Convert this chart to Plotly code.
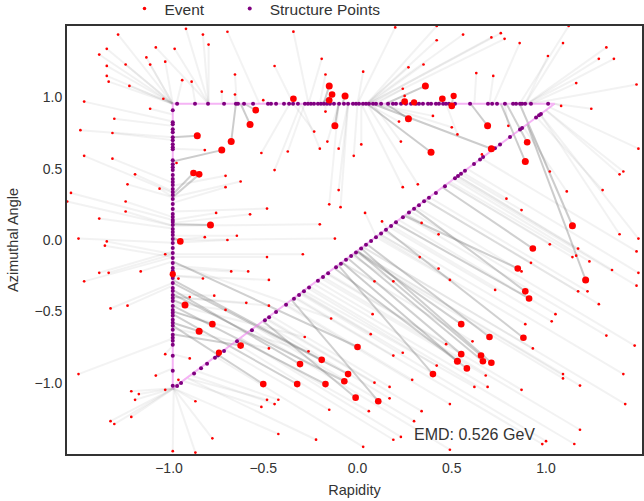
import plotly.graph_objects as go

# ---------------- structure (triangle) ----------------
tri_eta = [-0.98, -0.98, 1.045, -0.98]
tri_phi = [0.955, -1.04, 0.955, 0.955]

# structure points along the top edge
top_eta = [-0.957, -0.862, -0.793, -0.708, -0.645, -0.634, -0.602, -0.554, -0.475, -0.459,
           -0.432, -0.390, -0.363, -0.342, -0.316, -0.279, -0.263, -0.247, -0.231, -0.210,
           -0.194, -0.178, -0.162, -0.146, -0.125, -0.098, -0.072, -0.050, -0.024, -0.008,
           0.008, 0.029, 0.045, 0.061, 0.082, 0.098, 0.125, 0.162, 0.188, 0.204,
           0.231, 0.257, 0.284, 0.310, 0.326, 0.347, 0.374, 0.390, 0.416, 0.432,
           0.454, 0.469, 0.485, 0.517, 0.597, 0.692, 0.714, 0.740, 0.782, 0.825,
           0.841, 0.862, 0.873, 0.889, 0.920, 1.011]
top_phi = [0.955] * len(top_eta)

# structure points along the left edge
left_phi = [0.909, 0.825, 0.811, 0.776, 0.755, 0.720, 0.699, 0.671, 0.650, 0.636,
            0.559, 0.531, 0.510, 0.490, 0.455, 0.427, 0.406, 0.385, 0.357, 0.336,
            0.315, 0.287, 0.252, 0.217, 0.182, 0.161, 0.140, 0.126, 0.105, 0.077,
            0.056, 0.035, 0.007, -0.021, -0.056, -0.091, -0.126, -0.161, -0.196, -0.217,
            -0.245, -0.266, -0.301, -0.336, -0.357, -0.385, -0.406, -0.427, -0.462, -0.490,
            -0.510, -0.531, -0.559, -0.580, -0.601, -0.629, -0.664, -0.685, -0.706, -0.734,
            -0.811, -0.916, -1.021]
left_eta = [-0.98] * len(left_phi)

# structure points along the diagonal edge
diag_eta = [-0.957, -0.936, -0.867, -0.830, -0.798, -0.756, -0.740, -0.708, -0.639, -0.560,
            -0.491, -0.469, -0.432, -0.379, -0.337, -0.310, -0.284, -0.257, -0.210, -0.183,
            -0.156, -0.114, -0.088, -0.061, -0.034, -0.008, 0.019, 0.045, 0.072, 0.098,
            0.125, 0.151, 0.178, 0.204, 0.241, 0.273, 0.300, 0.326, 0.353, 0.379,
            0.416, 0.464, 0.517, 0.533, 0.549, 0.570, 0.618, 0.650, 0.666, 0.729,
            0.756, 0.809, 0.862, 0.873, 0.947, 0.963, 0.973]
diag_phi = [-1.024, -1.003, -0.935, -0.899, -0.867, -0.825, -0.810, -0.778, -0.710, -0.632,
            -0.563, -0.542, -0.505, -0.453, -0.411, -0.385, -0.359, -0.333, -0.286, -0.260,
            -0.233, -0.191, -0.166, -0.139, -0.113, -0.087, -0.060, -0.034, -0.007, 0.019,
            0.045, 0.071, 0.098, 0.124, 0.160, 0.192, 0.219, 0.244, 0.271, 0.297,
            0.330, 0.377, 0.433, 0.449, 0.465, 0.486, 0.533, 0.565, 0.581, 0.643,
            0.670, 0.722, 0.774, 0.785, 0.859, 0.874, 0.884]

# ---------------- event: hard particles ----------------
hard_eta = [-0.15, -0.135, -0.15, -0.066, -0.34, -0.12, 0.36, 0.45, 0.25, 0.30,
            0.27, 0.39, 0.51, 0.50, 0.69, 0.71, 0.90, 0.89, 1.14, -0.54,
            -0.57, -0.67, -0.72, -0.85, -0.87, -0.84, -0.78, -0.94, -0.98, -0.915,
            -0.77, -0.84, -0.62, -0.735, 0.00, -0.305, -0.19, -0.05, -0.07, -0.17,
            -0.32, -0.50, -0.01, 0.11, 0.40, 0.93, 0.85, 1.21, 0.89, 0.91,
            0.55, 0.70, 0.88, 0.55, 0.53, 0.655, 0.665, 0.71, 0.58]
hard_phi = [1.08, 1.02, 0.98, 1.01, 0.99, 0.80, 1.08, 0.99, 0.97, 0.965,
            0.85, 0.615, 1.01, 0.94, 0.80, 0.64, 0.685, 0.55, 0.10, 0.91,
            0.81, 0.69, 0.63, 0.73, 0.47, 0.46, 0.105, -0.01, -0.24, -0.455,
            -0.59, -0.64, -0.74, -0.79, -0.75, -0.87, -0.84, -0.94, -0.99, -1.01,
            -1.01, -1.01, -1.105, -1.13, -0.94, -0.06, -0.20, -0.28, -0.36, -0.41,
            -0.59, -0.68, -0.685, -0.80, -0.85, -0.81, -0.85, -0.86, -0.90]
hard_pt = [1.2, 1.1, 1.1, 1.2, 1.1, 1.2, 1.2, 1.1, 1.1, 1.0,
           1.2, 1.2, 1.0, 1.1, 1.2, 1.2, 1.1, 1.2, 1.2, 1.1,
           1.2, 1.2, 1.2, 1.2, 1.1, 1.1, 1.2, 1.1, 1.0, 1.2,
           1.1, 1.2, 1.1, 1.0, 1.1, 1.1, 1.1, 1.1, 1.1, 1.1,
           1.1, 1.1, 1.1, 1.1, 1.1, 1.1, 1.1, 1.2, 1.1, 1.1,
           1.1, 1.1, 1.1, 1.1, 1.2, 1.1, 1.1, 1.1, 1.1]
hard_to_eta = [-0.18, -0.19, -0.16, -0.08, -0.34, -0.10, 0.15, 0.43, 0.22, 0.30,
               0.15, 0.05, 0.50, 0.49, 0.60, 0.08, 0.79, 0.76, 0.86, -0.60,
               -0.62, -0.645, -0.98, -0.98, -0.98, -0.98, -0.98, -0.98, -0.98, -0.98,
               -0.98, -0.98, -0.98, -0.74, -0.98, -0.98, -0.98, -0.98, -0.98, -0.98,
               -0.98, -0.98, -0.50, -0.35, -0.10, 0.45, 0.25, 0.90, 0.30, 0.20,
               0.00, 0.05, 0.15, -0.05, -0.08, 0.00, -0.02, 0.02, -0.12]
hard_to_phi = [0.955, 0.955, 0.955, 0.955, 0.955, 0.955, 0.955, 0.955, 0.955, 0.955,
               0.955, 0.955, 0.955, 0.955, 0.955, 0.955, 0.955, 0.955, 0.955, 0.955,
               0.955, 0.955, 0.55, 0.72, 0.32, 0.30, 0.11, 0.02, -0.24, -0.42,
               -0.50, -0.58, -0.66, -0.80, -0.15, -0.35, -0.28, -0.30, -0.38, -0.46,
               -0.52, -0.60, -0.57, -0.42, -0.18, 0.37, 0.17, 0.81, 0.22, 0.12,
               -0.08, -0.03, 0.07, -0.13, -0.16, -0.08, -0.10, -0.06, -0.20]

# ---------------- event: soft particles ----------------
soft_eta = [-1.27, -0.91, -0.82, -0.69, -1.33, -1.37, -1.07, -0.97, -0.79, -1.12,
            -1.02, -1.23, -1.10, -1.33, -1.33, -1.32, -1.21, -0.93, -0.88, -0.65,
            -0.72, -0.65, -1.03, -1.45, -1.10, -1.29, -1.47, -1.30, -0.81, -0.96,
            -1.45, -1.30, -1.18, -0.70, -1.22, -1.05, -0.62, -0.70, -1.52, -1.54,
            -1.23, -0.75, -1.23, -0.57, -1.37, -1.48, -0.81, -0.69, -0.64,
            -0.34, 0.20, 0.42, 0.42, -0.44, -0.19, -0.17, 0.03, 0.27, 0.35,
            -0.50, 0.24, 0.25, -0.17, -0.23, -0.16, -0.10, -0.20, 0.02, -0.02,
            0.22, 0.23, 0.40, 0.50, -0.51, -0.37, -0.44, 0.24, 0.32, -0.10,
            -0.15, -0.09, -0.48, 0.04, 0.13, 0.34, 0.43, -0.20, -0.12,
            0.56, 0.71, 0.76, 0.78, 0.86, 1.09, 1.12, 1.32, 1.28, 1.36,
            1.01, 0.63, 0.72, 1.16, 1.48, 1.08, 1.24, 0.53, 0.80, 0.66,
            1.49, 1.02, 1.11, 1.30, 1.41, 1.39, 0.79, 0.87, 1.39, 1.49,
            -1.33, -1.34, -1.37, -1.32, -1.15, -1.45, -1.02, -0.95, -0.82, -0.67,
            -0.58, -1.31, -1.22, -0.89, -0.76, -0.70, -0.59, -1.02, -0.89, -1.48,
            -1.07, -0.95, -1.02, -1.20, -1.16, -1.18, -0.86, -1.31, -1.29, -1.20,
            -0.77, -0.98, -0.86,
            -0.29, -0.48, -0.47, -0.47, -0.14, 0.08, 0.09, 0.19, 0.33, 0.43,
            0.49, -0.28, -0.47, -0.26, 0.07, 0.19, 0.24, 0.47, 0.42, 0.29,
            0.09, 0.17, 0.17, 0.34, 0.30, 0.49, -0.48, -0.42, -0.44, -0.51,
            -0.15, 0.06, -0.42, -0.22, 0.03, 0.19, 0.23,
            1.02, 1.17, 1.14, 1.16, 1.23, 1.48, 1.35, 1.49, 1.48, 0.73,
            0.92, 0.87, 1.17, 1.22, 1.28, 1.05, 1.03, 0.89, 1.32, 1.47,
            0.61, 0.93, 1.09, 1.09, 1.18, 1.41, 1.42, 0.68, 0.69, 0.62,
            0.87, 1.18, 1.15, 1.00, 0.98, 0.49]
soft_phi = [1.44, 1.48, 1.44, 1.46, 1.34, 1.30, 1.35, 1.34, 1.37, 1.28,
            1.25, 1.23, 1.23, 1.22, 1.15, 1.11, 1.08, 1.12, 1.11, 1.16,
            1.04, 1.02, 0.99, 0.97, 0.92, 0.85, 0.77, 0.75, 0.63, 0.54,
            0.59, 0.57, 0.46, 0.45, 0.39, 0.36, 0.41, 0.37, 0.33, 0.27,
            0.27, 0.19, 0.20, 0.18, 0.15, 0.01, 0.02, 0.00, 0.03,
            1.46, 1.49, 1.50, 1.40, 1.22, 1.27, 1.16, 1.18, 1.21, 1.23,
            0.98, 1.06, 1.01, 0.90, 0.76, 0.69, 0.64, 0.64, 0.67, 0.59,
            0.83, 0.69, 0.87, 0.79, 0.61, 0.62, 0.49, 0.37, 0.39, 0.35,
            0.25, 0.23, 0.22, 0.19, 0.13, 0.12, 0.04, 0.11, 0.01,
            1.44, 1.42, 1.45, 1.41, 1.38, 1.38, 1.50, 1.35, 1.27, 1.27,
            1.29, 1.17, 1.15, 1.10, 1.09, 0.94, 0.92, 0.74, 0.80, 0.60,
            0.64, 0.48, 0.34, 0.35, 0.48, 0.46, 0.29, 0.21, 0.04, 0.01,
            -0.01, -0.04, -0.23, -0.23, -0.22, -0.29, -0.10, -0.27, -0.27, -0.22,
            -0.22, -0.48, -0.46, -0.40, -0.39, -0.49, -0.44, -0.80, -0.83, -0.94,
            -0.95, -0.98, -1.05, -1.06, -1.08, -1.12, -1.13, -1.27, -1.29, -1.24,
            -1.39, -1.48, -1.49,
            -0.10, -0.12, -0.28, -0.46, -0.55, -0.52, -0.29, -0.29, -0.12, -0.20,
            -0.28, -0.68, -0.76, -0.78, -0.66, -0.81, -0.79, -0.73, -0.88, -0.98,
            -1.00, -1.03, -1.11, -1.20, -1.27, -1.15, -1.12, -1.12, -1.15, -1.17,
            -1.19, -1.20, -1.36, -1.40, -1.45, -1.40, -1.38,
            -0.03, -0.06, -0.12, -0.11, -0.15, -0.08, -0.21, -0.23, -0.32, -0.35,
            -0.16, -0.22, -0.36, -0.36, -0.45, -0.52, -0.57, -0.59, -0.67, -0.74,
            -0.71, -0.76, -0.94, -0.97, -1.02, -0.94, -1.15, -0.95, -1.03, -1.03,
            -1.05, -1.33, -1.43, -1.41, -1.43, -1.47]
soft_pt = [0.08, 0.07, 0.09, 0.06, 0.08, 0.10, 0.07, 0.08, 0.09, 0.06,
           0.08, 0.07, 0.09, 0.08, 0.06, 0.07, 0.08, 0.09, 0.07, 0.08,
           0.06, 0.08, 0.07, 0.09, 0.08, 0.07, 0.08, 0.06, 0.09, 0.07,
           0.08, 0.07, 0.09, 0.08, 0.07, 0.06, 0.08, 0.09, 0.07, 0.08,
           0.06, 0.08, 0.07, 0.09, 0.08, 0.07, 0.08, 0.09, 0.06,
           0.08, 0.07, 0.09, 0.08, 0.06, 0.07, 0.08, 0.09, 0.07, 0.08,
           0.06, 0.08, 0.07, 0.09, 0.08, 0.07, 0.08, 0.06, 0.09, 0.07,
           0.08, 0.07, 0.09, 0.08, 0.07, 0.06, 0.08, 0.09, 0.07, 0.08,
           0.06, 0.08, 0.07, 0.09, 0.08, 0.07, 0.08, 0.09, 0.06,
           0.08, 0.07, 0.09, 0.08, 0.06, 0.07, 0.08, 0.09, 0.07, 0.08,
           0.06, 0.08, 0.07, 0.09, 0.08, 0.07, 0.08, 0.06, 0.09, 0.07,
           0.08, 0.07, 0.09, 0.08, 0.07, 0.06, 0.08, 0.09, 0.07, 0.08,
           0.06, 0.08, 0.07, 0.09, 0.08, 0.07, 0.08, 0.09, 0.06, 0.08,
           0.07, 0.09, 0.08, 0.06, 0.07, 0.08, 0.09, 0.07, 0.08, 0.06,
           0.08, 0.07, 0.09, 0.08, 0.07, 0.08, 0.06, 0.09, 0.07, 0.08,
           0.07, 0.09, 0.08,
           0.07, 0.06, 0.08, 0.09, 0.07, 0.08, 0.06, 0.08, 0.07, 0.09,
           0.08, 0.07, 0.08, 0.09, 0.06, 0.08, 0.07, 0.09, 0.08, 0.06,
           0.07, 0.08, 0.09, 0.07, 0.08, 0.06, 0.08, 0.07, 0.09, 0.08,
           0.07, 0.08, 0.06, 0.09, 0.07, 0.08, 0.07,
           0.09, 0.08, 0.07, 0.06, 0.08, 0.09, 0.07, 0.08, 0.06, 0.08,
           0.07, 0.09, 0.08, 0.07, 0.08, 0.09, 0.06, 0.08, 0.07, 0.09,
           0.08, 0.07, 0.06, 0.08, 0.09, 0.07, 0.08, 0.06, 0.08, 0.07,
           0.09, 0.08, 0.07, 0.08, 0.09, 0.06]
soft_to_eta = [-0.98, -0.79, -0.79, -0.52, -0.98, -0.98, -0.79, -0.79, -0.79, -0.98,
               -0.98, -0.98, -0.98, -0.98, -0.98, -0.98, -0.98, -0.96, -0.86, -0.64,
               -0.72, -0.65, -0.98, -0.98, -0.98, -0.98, -0.98, -0.98, -0.98, -0.98,
               -0.98, -0.98, -0.98, -0.98, -0.98, -0.98, -0.98, -0.98, -0.98, -0.98,
               -0.98, -0.98, -0.98, -0.98, -0.98, -0.98, -0.98, -0.98, -0.98,
               -0.26, 0.00, 0.05, 0.05, -0.34, -0.26, -0.20, 0.00, 0.05, 0.06,
               -0.50, 0.10, 0.22, -0.17, -0.34, -0.10, -0.05, -0.30, 0.02, 0.00,
               0.05, 0.08, 0.08, 0.10, -0.36, -0.28, -0.30, 0.02, 0.05, -0.05,
               -0.10, -0.05, -0.98, 0.10, 0.16, 0.26, 0.26, -0.98, -0.98,
               0.05, 0.06, 0.06, 0.08, 0.72, 0.89, 0.86, 0.90, 0.90, 0.90,
               0.89, 0.62, 0.70, 0.92, 0.92, 1.045, 1.045, 0.47, 0.78, 0.67,
               1.02, 0.90, 0.88, 0.95, 1.00, 1.00, 0.56, 0.55, 0.97, 0.97,
               -0.98, -0.98, -0.98, -0.98, -0.98, -0.98, -0.98, -0.98, -0.98, -0.98,
               -0.98, -0.98, -0.98, -0.98, -0.98, -0.98, -0.98, -0.98, -0.98, -0.98,
               -0.98, -0.97, -0.975, -0.975, -0.975, -0.975, -0.975, -0.975, -0.975, -0.975,
               -0.975, -0.975, -0.975,
               -0.98, -0.98, -0.98, -0.98, -0.98, -0.21, -0.08, -0.03, 0.12, 0.12,
               0.10, -0.98, -0.98, -0.98, -0.30, -0.33, -0.29, -0.16, -0.26, -0.38,
               -0.48, -0.46, -0.50, -0.48, -0.54, -0.38, -0.90, -0.85, -0.88, -0.92,
               -0.70, -0.62, -0.975, -0.90, -0.75, -0.65, -0.62,
               0.48, 0.53, 0.48, 0.49, 0.51, 0.66, 0.53, 0.58, 0.52, 0.17,
               0.36, 0.31, 0.36, 0.38, 0.36, 0.22, 0.18, 0.11, 0.25, 0.28,
               -0.08, 0.03, 0.00, -0.01, 0.00, 0.14, 0.03, -0.19, -0.23, -0.28,
               -0.16, -0.18, -0.25, -0.30, -0.33, -0.56]
soft_to_phi = [0.955, 0.955, 0.955, 0.955, 0.955, 0.955, 0.955, 0.955, 0.955, 0.955,
               0.955, 0.955, 0.955, 0.955, 0.955, 0.955, 0.955, 0.955, 0.955, 0.955,
               0.955, 0.955, 0.955, 0.83, 0.88, 0.80, 0.72, 0.70, 0.64, 0.54,
               0.33, 0.40, 0.34, 0.38, 0.30, 0.30, 0.30, 0.26, 0.14, 0.10,
               0.16, 0.14, 0.10, 0.12, 0.08, -0.02, 0.00, -0.02, 0.03,
               0.955, 0.955, 0.955, 0.955, 0.955, 0.955, 0.955, 0.955, 0.955, 0.955,
               0.955, 0.955, 0.955, 0.955, 0.955, 0.955, 0.955, 0.955, 0.955, 0.955,
               0.955, 0.955, 0.955, 0.955, 0.955, 0.955, 0.955, 0.955, 0.955, 0.955,
               0.955, 0.955, 0.20, 0.02, 0.08, 0.18, 0.18, 0.10, 0.00,
               0.955, 0.955, 0.955, 0.955, 0.955, 0.955, 0.955, 0.955, 0.955, 0.955,
               0.955, 0.955, 0.955, 0.955, 0.955, 0.955, 0.955, 0.955, 0.955, 0.58,
               0.93, 0.81, 0.79, 0.86, 0.91, 0.91, 0.47, 0.46, 0.88, 0.88,
               -0.10, -0.12, -0.08, -0.10, -0.15, -0.12, -0.10, -0.27, -0.25, -0.20,
               -0.18, -0.30, -0.32, -0.40, -0.38, -0.44, -0.40, -0.74, -0.80, -0.69,
               -0.90, -1.03, -1.04, -1.04, -1.04, -1.04, -1.04, -1.04, -1.04, -1.04,
               -1.04, -1.04, -1.04,
               -0.10, -0.12, -0.25, -0.40, -0.16, -0.29, -0.16, -0.11, 0.04, 0.04,
               0.02, -0.45, -0.62, -0.50, -0.37, -0.40, -0.37, -0.23, -0.34, -0.45,
               -0.55, -0.53, -0.58, -0.56, -0.61, -0.46, -0.97, -0.92, -0.95, -0.99,
               -0.77, -0.69, -1.04, -0.97, -0.82, -0.72, -0.69,
               0.40, 0.45, 0.40, 0.41, 0.43, 0.57, 0.45, 0.50, 0.44, 0.09,
               0.28, 0.23, 0.28, 0.30, 0.28, 0.14, 0.10, 0.03, 0.17, 0.20,
               -0.16, -0.05, -0.08, -0.09, -0.08, 0.06, -0.05, -0.27, -0.31, -0.36,
               -0.24, -0.26, -0.33, -0.38, -0.41, -0.63]

EMD_VALUE = 0.526

# ---------------- figure ----------------
ev_eta = hard_eta + soft_eta
ev_phi = hard_phi + soft_phi
ev_pt = hard_pt + soft_pt
to_eta = hard_to_eta + soft_to_eta
to_phi = hard_to_phi + soft_to_phi
pt_max = max(ev_pt)

fig = go.Figure()

# flow lines (one trace each so overlapping transport lines accumulate)
for e, p, w, te, tp in zip(ev_eta, ev_phi, ev_pt, to_eta, to_phi):
    a = 0.07 + 0.28 * w / pt_max
    fig.add_trace(go.Scatter(
        x=[e, te], y=[p, tp], mode="lines",
        line=dict(color=f"rgba(110,110,110,{a:.3f})", width=2),
        hoverinfo="skip", showlegend=False))

# triangle outline
fig.add_trace(go.Scatter(
    x=tri_eta, y=tri_phi, mode="lines",
    line=dict(color="rgba(238,130,238,0.6)", width=2),
    hoverinfo="skip", showlegend=False))

# structure points
fig.add_trace(go.Scatter(
    x=top_eta + left_eta + diag_eta, y=top_phi + left_phi + diag_phi,
    mode="markers", name="Structure Points", legend="legend2",
    marker=dict(color="#800080", size=4, opacity=1, line=dict(width=0))))

# event particles
fig.add_trace(go.Scatter(
    x=ev_eta, y=ev_phi, mode="markers", name="Event", legend="legend",
    marker=dict(color="red", size=[2.4 + 4.6 * v / pt_max for v in ev_pt],
                opacity=1, line=dict(width=0))))

fig.add_annotation(
    xref="paper", yref="paper", x=0.600, y=0.045, xanchor="left", yanchor="middle",
    text=f"EMD: {EMD_VALUE:.3f} GeV", showarrow=False,
    font=dict(size=16, color="#333333"))

axis_common = dict(
    showgrid=False, zeroline=False, showline=True, mirror=True,
    linecolor="#333333", linewidth=2, ticks="",
    tickvals=[-1.0, -0.5, 0.0, 0.5, 1.0], tickformat=".1f",
    tickfont=dict(size=14, color="#333333"),
)

legend_common = dict(orientation="h", xanchor="left", y=1.0, yanchor="bottom",
                     font=dict(size=15.5), itemwidth=30, bgcolor="rgba(0,0,0,0)")

fig.update_layout(
    width=644, height=501,
    margin=dict(l=67, r=2, t=26, b=47, autoexpand=False),
    paper_bgcolor="white", plot_bgcolor="white",
    font=dict(family="Liberation Sans, Arial, sans-serif", color="#333333"),
    xaxis=dict(range=[-1.541, 1.509],
               title=dict(text="Rapidity", font=dict(size=14.5), standoff=10),
               **axis_common),
    yaxis=dict(range=[-1.5, 1.5],
               title=dict(text="Azimuthal Angle", font=dict(size=14.5), standoff=12),
               **axis_common),
    legend=dict(x=0.100, **legend_common),
    legend2=dict(x=0.283, **legend_common),
    showlegend=True,
)

fig.write_html("out.html")
